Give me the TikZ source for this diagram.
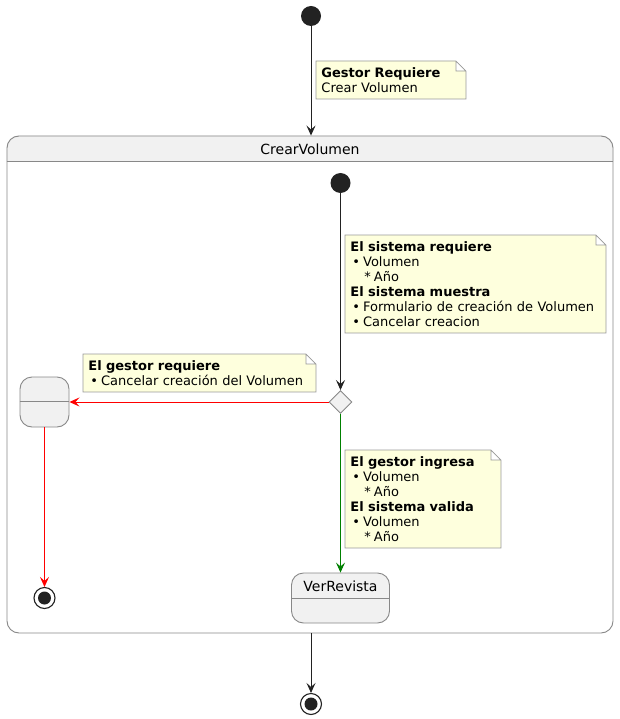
\documentclass[tikz,border=0pt]{standalone}
\usepackage{fontspec}
\setmainfont{DejaVu Sans}
\usepackage{xcolor}
\usepackage{tikz}
\usetikzlibrary{arrows.meta,positioning,shapes.geometric,backgrounds}
\definecolor{statefill}{HTML}{F1F1F1}
\definecolor{stateline}{HTML}{888888}
\definecolor{notefill}{HTML}{FEFFDD}
\definecolor{noteline}{HTML}{999999}
\definecolor{dark}{HTML}{222222}
\definecolor{okgreen}{HTML}{008000}
\tikzset{
  notetext/.style={anchor=north west,inner xsep=5pt,inner ysep=6pt,align=left,
    font=\fontsize{13}{15}\selectfont},
  statebox/.style={draw=stateline,fill=statefill,rounded corners=12pt,
    minimum height=50pt,inner sep=0pt},
  startstate/.style={circle,fill=dark,minimum size=20pt,inner sep=0pt},
  endstate/.style={circle,draw=dark,line width=1.1pt,minimum size=21pt,inner sep=0pt,
    path picture={\fill[dark] (path picture bounding box.center) circle (6.5pt);}},
  choice/.style={diamond,draw=stateline,fill=statefill,minimum size=23pt,inner sep=0pt},
  statetitle/.style={font=\fontsize{14}{16}\selectfont},
}
\newcommand{\bul}{\hspace*{2pt}•\hspace{3pt}}
\newcommand{\sub}{\hspace*{14pt}*\hspace{3pt}}
\begin{document}
\begin{tikzpicture}[x=1pt,y=-1pt,>={Stealth[length=10pt,width=9pt,inset=4pt]},line width=0.9pt]
\useasboundingbox (0,0) rectangle (620,719);

\node[startstate] (s0) at (311,16) {};
\node[draw=stateline,rounded corners=12pt,minimum width=606pt,minimum height=497pt,
  inner sep=0pt] (comp) at (310,384.5) {};
\node[statetitle] (compT) at (310,149) {CrearVolumen};
\draw[stateline] ([yshift=-26pt]comp.north west) -- ([yshift=-26pt]comp.north east);
\node[startstate] (s1) at (340.5,183) {};
\node[choice] (ch) at (340.5,402) {};
\node[statebox,minimum width=49pt] (blank) at (44.5,402) {};
\draw[stateline] ([yshift=-25pt]blank.north west) -- ([yshift=-25pt]blank.north east);
\node[statebox,minimum width=98pt] (ver) at (340.5,598) {};
\draw[stateline] ([yshift=-26pt]ver.north west) -- ([yshift=-26pt]ver.north east);
\node[statetitle] (verT) at (340.5,586) {VerRevista};
\node[endstate] (e1) at (44.5,598) {};
\node[endstate] (e0) at (311,704) {};

\node[notetext,text width=139pt] (nA) at (316,61)
  {\textbf{Gestor Requiere}\\Crear Volumen};
\node[notetext,text width=250pt] (nB) at (345,235)
  {\textbf{El sistema requiere}\\\bul Volumen\\\sub Año\\\textbf{El sistema muestra}\\
   \bul Formulario de creación de Volumen\\\bul Cancelar creacion};
\node[notetext,text width=222pt] (nC) at (83,354)
  {\textbf{El gestor requiere}\\\bul Cancelar creación del Volumen};
\node[notetext,text width=145pt] (nD) at (345,450)
  {\textbf{El gestor ingresa}\\\bul Volumen\\\sub Año\\\textbf{El sistema valida}\\
   \bul Volumen\\\sub Año};

\begin{scope}[on background layer]
\fill[white] (0,0) rectangle (620,719);
\fill[statefill] ([yshift=-26pt]comp.north west) [rounded corners=12pt] -- (comp.north west)
  -- (comp.north east) [sharp corners] -- ([yshift=-26pt]comp.north east) -- cycle;
\foreach \n in {nA,nB,nC,nD}
  \draw[noteline,fill=notefill,line width=0.8pt] (\n.north west) -- ([xshift=-10pt]\n.north east)
    -- ([yshift=-10pt]\n.north east) -- (\n.south east) -- (\n.south west) -- cycle
    ([xshift=-10pt]\n.north east) |- ([yshift=-10pt]\n.north east);
\end{scope}

\path[->,dark] (s0) edge (s0 |- comp.north);
\path[->,dark] (s1) edge (ch);
\path[->,red] (ch) edge (blank);
\path[->,red] (blank) edge (e1);
\path[->,okgreen] (ch) edge (ver);
\path[->,dark] (e0 |- comp.south) edge (e0);
\end{tikzpicture}
\end{document}
